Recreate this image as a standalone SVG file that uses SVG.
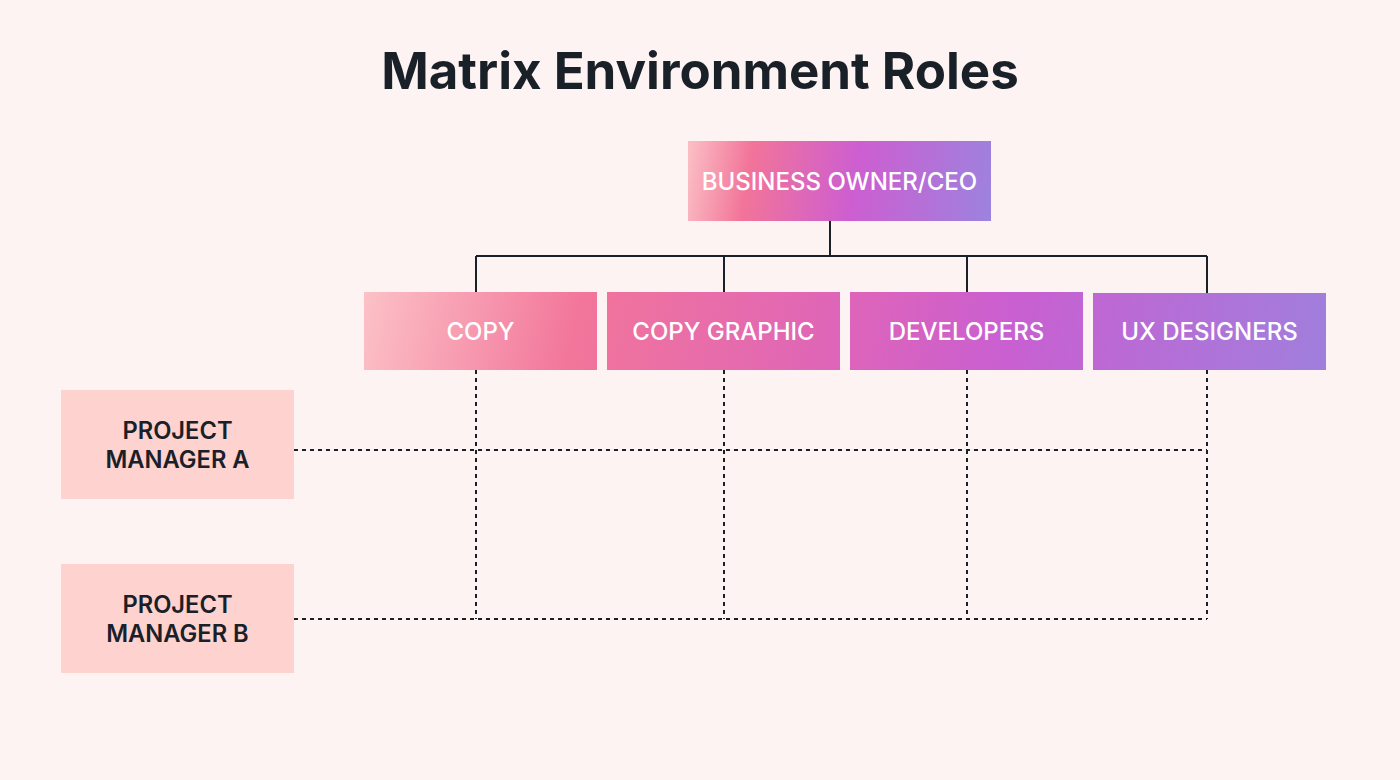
<svg xmlns="http://www.w3.org/2000/svg" width="1400" height="780" viewBox="0 0 1400 780">
<style>
.bg{fill:#fdf3f2}
.title{font-family:Inter,"Liberation Sans",sans-serif;font-weight:700;font-size:51px;fill:#1a2028}
.wt{font-family:Inter,"Liberation Sans",sans-serif;font-weight:500;font-size:24px;fill:#ffffff}
.dt{font-family:Inter,"Liberation Sans",sans-serif;font-weight:600;font-size:23.7px;fill:#1a2028}
.pm{fill:#fed2ce}
.solid{fill:none;stroke:#1a2028;stroke-width:2}
.dash{fill:none;stroke:#1a2028;stroke-width:2;stroke-dasharray:4 4}
</style>
<defs>
<linearGradient id="gceo" gradientUnits="userSpaceOnUse" x1="688" y1="160" x2="991" y2="205">
<stop offset="0" stop-color="#fbbdc4"/>
<stop offset="0.2" stop-color="#f27499"/>
<stop offset="0.55" stop-color="#cd5ed1"/>
<stop offset="1" stop-color="#9d82de"/>
</linearGradient>
<linearGradient id="groles" gradientUnits="userSpaceOnUse" x1="380" y1="230" x2="1326" y2="430">
<stop offset="0" stop-color="#fcc0c6"/>
<stop offset="0.22" stop-color="#f2759a"/>
<stop offset="0.5" stop-color="#dd64ba"/>
<stop offset="0.66" stop-color="#c95fd1"/>
<stop offset="1" stop-color="#9e80dd"/>
</linearGradient>
</defs>
<rect class="bg" x="0" y="0" width="1400" height="780"/>
<text class="title" x="700" y="89" text-anchor="middle">Matrix Environment Roles</text>
<g id="connectors">
<path class="solid" d="M830 221 V256 M476 256 H1207 M476 256 V292 M724 256 V292 M967 256 V292 M1207 256 V293"/>
<path class="dash" d="M476 370 V619 M724 370 V619 M967 370 V619 M1207 370 V619"/>
<path class="dash" d="M294 450 H1207 M294 619 H1207"/>
</g>
<g id="ceo">
<rect x="688" y="141" width="303" height="80" fill="url(#gceo)"/>
<text class="wt" x="839.5" y="190" text-anchor="middle">BUSINESS OWNER/CEO</text>
</g>
<g id="copy">
<rect x="364" y="292" width="233" height="78" fill="url(#groles)"/>
<text class="wt" x="480.5" y="340" text-anchor="middle">COPY</text>
</g>
<g id="copy-graphic">
<rect x="607" y="292" width="233" height="78" fill="url(#groles)"/>
<text class="wt" x="723.5" y="340" text-anchor="middle">COPY GRAPHIC</text>
</g>
<g id="developers">
<rect x="850" y="292" width="233" height="78" fill="url(#groles)"/>
<text class="wt" x="966.5" y="340" text-anchor="middle">DEVELOPERS</text>
</g>
<g id="ux-designers">
<rect x="1093" y="293" width="233" height="77" fill="url(#groles)"/>
<text class="wt" x="1209.5" y="340" text-anchor="middle">UX DESIGNERS</text>
</g>
<g id="pm-a">
<rect class="pm" x="61" y="390" width="233" height="109"/>
<text class="dt" x="177.5" y="439" text-anchor="middle">PROJECT</text>
<text class="dt" x="177.5" y="468" text-anchor="middle">MANAGER A</text>
</g>
<g id="pm-b">
<rect class="pm" x="61" y="564" width="233" height="109"/>
<text class="dt" x="177.5" y="613" text-anchor="middle">PROJECT</text>
<text class="dt" x="177.5" y="642" text-anchor="middle">MANAGER B</text>
</g>
</svg>
